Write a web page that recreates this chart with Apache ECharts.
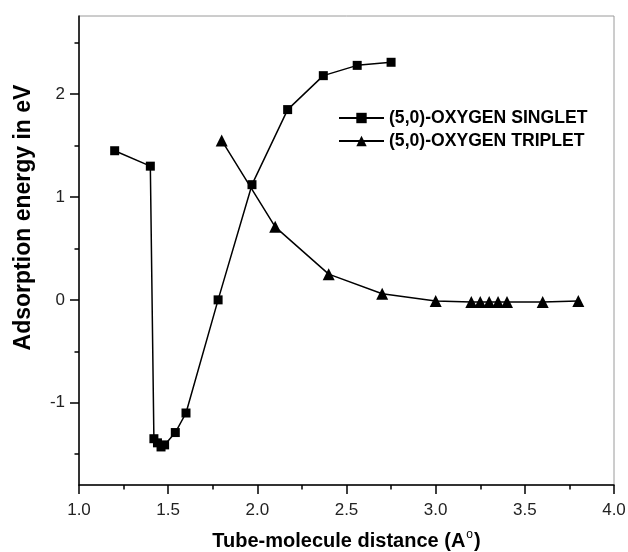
<!DOCTYPE html>
<html>
<head>
<meta charset="utf-8">
<script src="https://cdn.jsdelivr.net/npm/echarts@6/dist/echarts.min.js"></script>
<style>html,body{margin:0;padding:0;background:#fff;}#c{width:628px;height:552px;}</style>
</head>
<body>
<div id="c"></div>
<script>
const singletX = [1.2, 1.4, 1.42, 1.44, 1.46, 1.48, 1.54, 1.6, 1.78, 1.97, 2.17, 2.37, 2.56, 2.75];
const singletY = [1.45, 1.30, -1.35, -1.39, -1.43, -1.41, -1.29, -1.10, 0.0, 1.12, 1.85, 2.18, 2.28, 2.31];
const tripletX = [1.8, 2.1, 2.4, 2.7, 3.0, 3.2, 3.25, 3.3, 3.35, 3.4, 3.6, 3.8];
const tripletY = [1.55, 0.71, 0.25, 0.06, -0.01, -0.02, -0.02, -0.02, -0.02, -0.02, -0.02, -0.01];
const yMajorTicks = [-1, 0, 1, 2];
const yMinorTicks = [-1.5, -0.5, 0.5, 1.5, 2.5];
const seriesNames = ['(5,0)-OXYGEN SINGLET', '(5,0)-OXYGEN TRIPLET'];
const xTitle = 'Tube-molecule distance (A{sup|o})';
const yTitle = 'Adsorption energy in eV';

const FONT = 'Liberation Sans, Arial, sans-serif';
const pair = (xs, ys) => xs.map((x, i) => [x, ys[i]]);

const chart = echarts.init(document.getElementById('c'));
const yBase = {
  type: 'value', min: -1.8, max: 2.76, position: 'left',
  splitLine: { show: false }
};
chart.setOption({
  animation: false,
  backgroundColor: '#fff',
  grid: { left: 79, right: 14, top: 16, bottom: 67, show: true, borderColor: '#9a9a9a', borderWidth: 1,
    containLabel: false, outerBoundsMode: 'none' },
  legend: {
    orient: 'vertical', left: 333, top: 104, itemWidth: 45, itemHeight: 13, itemGap: 5,
    textStyle: { fontFamily: FONT, fontSize: 17.6, fontWeight: 'bold', color: '#000' },
    data: seriesNames
  },
  xAxis: {
    type: 'value', min: 1, max: 4, interval: 0.5,
    axisLine: { onZero: false, lineStyle: { color: '#000', width: 1.5 } },
    axisTick: { show: true, length: 9, lineStyle: { color: '#000', width: 1.5 } },
    minorTick: { show: true, splitNumber: 2, length: 4.5, lineStyle: { color: '#000', width: 1.5 } },
    splitLine: { show: false },
    axisLabel: { margin: 17, fontFamily: FONT, fontSize: 17, color: '#222', formatter: v => v.toFixed(1) },
    name: xTitle, nameLocation: 'middle', nameGap: 44,
    nameTextStyle: { fontFamily: FONT, fontSize: 20, fontWeight: 'bold', color: '#000',
      rich: { sup: { fontFamily: FONT, fontSize: 12, fontWeight: 'normal', verticalAlign: 'top', padding: [0, 1, 12, 1] } } }
  },
  yAxis: [
    Object.assign({}, yBase, {
      axisLine: { show: true, onZero: false, lineStyle: { color: '#000', width: 1.5 } },
      axisTick: { show: true, length: 9, customValues: yMajorTicks, lineStyle: { color: '#000', width: 1.5 } },
      axisLabel: { margin: 14, fontFamily: FONT, fontSize: 17, color: '#222', customValues: yMajorTicks, formatter: v => String(v) },
      name: yTitle, nameLocation: 'middle', nameGap: 44, nameRotate: 90,
      nameTextStyle: { fontFamily: FONT, fontSize: 23, fontWeight: 'bold', color: '#000', padding: [0, 0, 0, 66] }
    }),
    Object.assign({}, yBase, {
      axisLine: { show: false, onZero: false },
      axisTick: { show: true, length: 4.5, customValues: yMinorTicks, lineStyle: { color: '#000', width: 1.5 } },
      axisLabel: { show: false }
    })
  ],
  series: [
    {
      name: seriesNames[0], type: 'line', data: pair(singletX, singletY),
      symbol: 'rect', symbolSize: 9, showSymbol: true,
      lineStyle: { color: '#000', width: 1.5 }, itemStyle: { color: '#000' }
    },
    {
      name: seriesNames[1], type: 'line', data: pair(tripletX, tripletY),
      symbol: 'triangle', symbolSize: 12, showSymbol: true,
      lineStyle: { color: '#000', width: 1.5 }, itemStyle: { color: '#000' }
    }
  ]
});
</script>
</body>
</html>
